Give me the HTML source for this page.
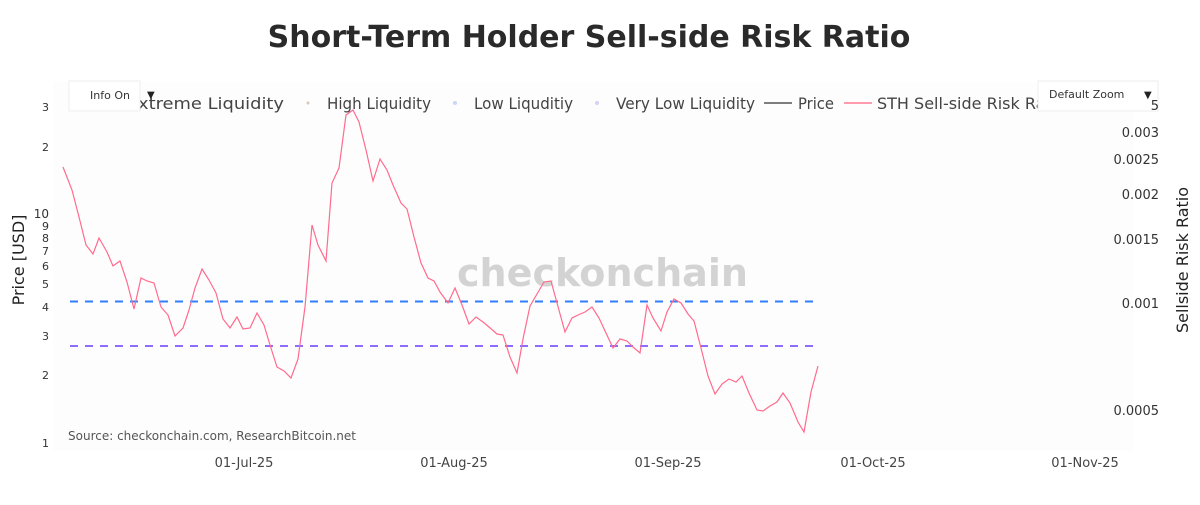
<!DOCTYPE html>
<html><head><meta charset="utf-8"><style>
body{margin:0;background:#fff;}
svg text{font-family:"DejaVu Sans","Liberation Sans",sans-serif;}
</style></head><body>
<svg width="1200" height="500" xmlns="http://www.w3.org/2000/svg">
<rect x="0" y="0" width="1200" height="500" fill="#fff"/>
<rect x="53" y="82" width="1080" height="369" fill="#fdfdfd"/>
<text x="589" y="47" text-anchor="middle" font-size="30" font-weight="bold" fill="#2a2a2a">Short-Term Holder Sell-side Risk Ratio</text>
<text x="457" y="286" font-size="38" font-weight="bold" fill="#d3d3d3" textLength="291" lengthAdjust="spacingAndGlyphs">checkonchain</text>
<line x1="70" y1="301.5" x2="818" y2="301.5" stroke="#2f7fff" stroke-width="2" stroke-dasharray="8,7"/>
<line x1="70" y1="346" x2="818" y2="346" stroke="#8f6bff" stroke-width="2" stroke-dasharray="8,7"/>
<polyline fill="none" stroke="#ff6b8e" stroke-width="1.2" points="63,167 72,190 79,217 86,245 93,254 99,238 107,252 113,266 120,261 127,282 134,309 141,278 147,281 154,283 161,307 168,315 175,336 183,328 189,310 195,288 202,269 209,280 216,293 223,319 230,328 237,317 243,329 250,328 257,313 264,325 270,345 277,367 284,371 291,378 298,359 305,307 312,225 318,245 326,261 332,183 339,168 346,115 353,110 359,122 366,150 373,181 380,159 387,170 393,185 401,203 407,209 414,237 421,263 428,278 434,281 440,292 448,303 455,288 462,305 469,324 476,317 483,322 489,327 497,334 503,335 510,357 517,373 523,339 530,306 537,294 544,282 551,281 557,303 565,332 572,318 578,315 585,312 592,307 599,318 606,333 613,348 620,339 627,341 633,347 640,353 647,305 653,318 661,331 667,312 674,299 681,303 688,314 694,321 701,348 708,376 715,394 722,384 729,379 736,382 742,376 749,393 757,410 763,411 770,406 777,402 783,393 790,403 798,422 804,432 811,392 818,366"/>
<g font-size="11" fill="#333" text-anchor="end">
<text x="49" y="111">3</text><text x="49" y="151">2</text><text x="49" y="218" font-size="12">10</text>
<text x="49" y="230">9</text><text x="49" y="242">8</text><text x="49" y="255">7</text><text x="49" y="270">6</text><text x="49" y="288">5</text><text x="49" y="311">4</text><text x="49" y="340">3</text><text x="49" y="379">2</text><text x="49" y="447">1</text>
</g>
<g font-size="13" fill="#333" text-anchor="end">
<text x="1159" y="137">0.003</text><text x="1159" y="164">0.0025</text><text x="1159" y="199">0.002</text><text x="1159" y="244">0.0015</text><text x="1159" y="308">0.001</text><text x="1159" y="415">0.0005</text>
</g>
<g font-size="13" fill="#444" text-anchor="middle">
<text x="244" y="467">01-Jul-25</text><text x="454" y="467">01-Aug-25</text><text x="668" y="467">01-Sep-25</text><text x="873" y="467">01-Oct-25</text><text x="1085" y="467">01-Nov-25</text>
</g>
<text x="24" y="260" font-size="16" fill="#222" text-anchor="middle" transform="rotate(-90 24 260)">Price [USD]</text>
<text x="1188" y="260" font-size="16" fill="#222" text-anchor="middle" transform="rotate(-90 1188 260)">Sellside Risk Ratio</text>
<text x="68" y="440" font-size="12" fill="#555">Source: checkonchain.com, ResearchBitcoin.net</text>
<g font-size="16" fill="#444">
<text x="138" y="109" textLength="146" lengthAdjust="spacingAndGlyphs">xtreme Liquidity</text>
<circle cx="308" cy="103" r="1.5" fill="#d8c8b8"/>
<text x="327" y="109" textLength="104" lengthAdjust="spacingAndGlyphs">High Liquidity</text>
<circle cx="455" cy="103" r="2" fill="#c8d8f8"/>
<text x="474" y="109" textLength="99" lengthAdjust="spacingAndGlyphs">Low Liquditiy</text>
<circle cx="597" cy="103" r="2" fill="#d8d0f8"/>
<text x="616" y="109" textLength="139" lengthAdjust="spacingAndGlyphs">Very Low Liquidity</text>
<line x1="764" y1="103" x2="792" y2="103" stroke="#555" stroke-width="1.5"/>
<text x="798" y="109" textLength="36" lengthAdjust="spacingAndGlyphs">Price</text>
<line x1="844" y1="103" x2="872" y2="103" stroke="#ff9aaf" stroke-width="2"/>
<text x="877" y="109">STH Sell-side Risk Ratio</text>
</g>
<rect x="69" y="81" width="71" height="30" fill="#fff" stroke="#eee"/>
<text x="90" y="99" font-size="11" fill="#333">Info On</text>
<text x="147" y="98" font-size="10" fill="#222">▼</text>
<rect x="1038" y="81" width="120" height="30" fill="#fff" stroke="#eee"/>
<text x="1049" y="98" font-size="11" fill="#333">Default Zoom</text>
<text x="1144" y="98" font-size="10" fill="#222">▼</text>
<text x="1159" y="110" font-size="13" fill="#333" text-anchor="end">5</text>
</svg>
</body></html>
